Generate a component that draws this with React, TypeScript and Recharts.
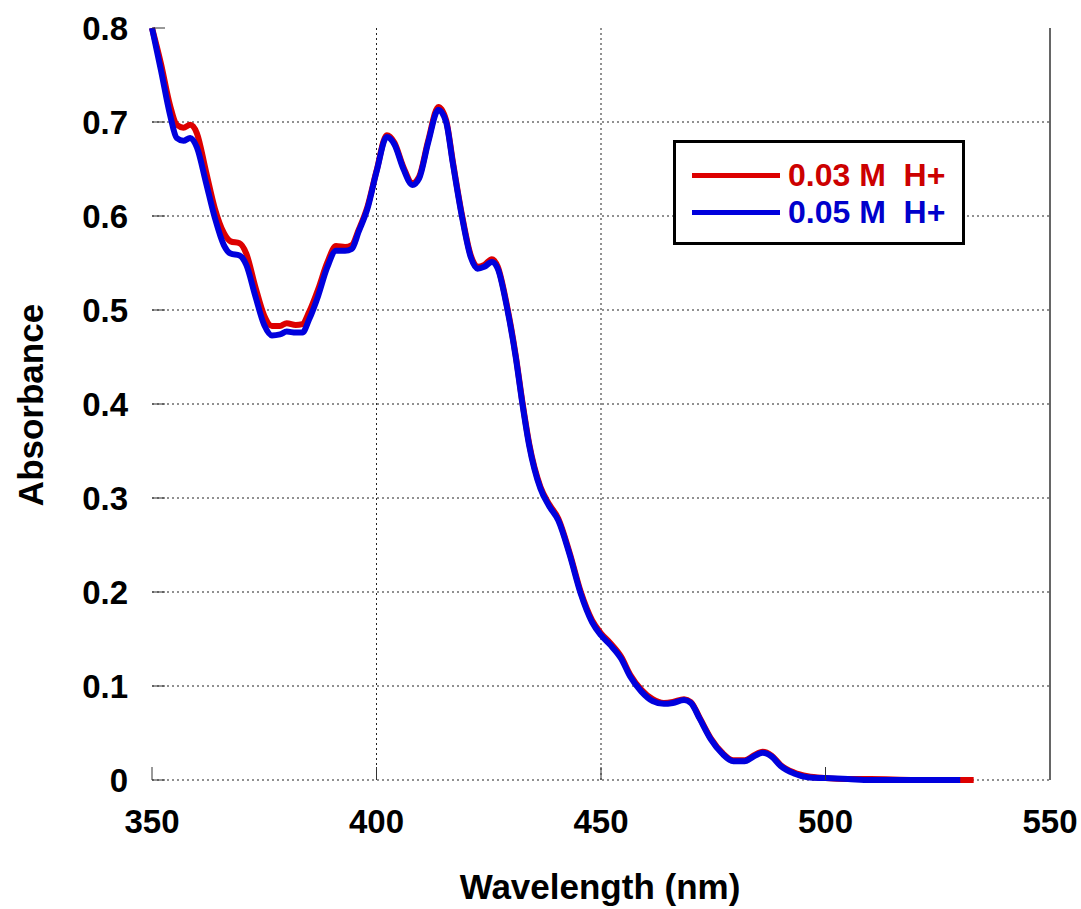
import { LineChart, Line, XAxis, YAxis, CartesianGrid } from "recharts";

// wavelength grid (nm)
const WAVELENGTH = [
  350, 352, 354, 355.5, 357, 358.5, 360, 362, 364, 366, 367.5, 369.5, 371, 373, 375, 376.7, 378.5, 380, 382, 383.5,
  385, 387, 389, 391, 393, 394.5, 396, 398, 400, 402.3, 404, 406, 408, 409.5, 411.5, 413.8, 415.5, 417, 419, 421,
  422.5, 424, 425.7, 427, 429, 431, 432.5, 434, 436.5, 438.5, 440.5, 443, 445.5, 448, 450, 452, 454.5, 456.5, 459, 461.5,
  464, 466, 468.5, 470, 472, 474.5, 477, 479.5, 482, 484, 486, 488, 490, 493, 496, 500, 505, 510, 520, 530,
];

// 0.03 M H+ (red)
const ABS_003 = [
  0.8, 0.762, 0.718, 0.697, 0.694, 0.697, 0.688, 0.648, 0.608, 0.582, 0.573, 0.571, 0.56, 0.525, 0.494, 0.483, 0.483, 0.486, 0.484, 0.485,
  0.498, 0.522, 0.55, 0.568, 0.567, 0.569, 0.585, 0.61, 0.648, 0.686, 0.678, 0.652, 0.635, 0.642, 0.68, 0.716, 0.702, 0.658, 0.602, 0.558,
  0.546, 0.548, 0.554, 0.546, 0.506, 0.452, 0.402, 0.358, 0.312, 0.293, 0.278, 0.242, 0.2, 0.17, 0.156, 0.146, 0.131, 0.112, 0.096, 0.086,
  0.082, 0.083, 0.086, 0.083, 0.066, 0.044, 0.029, 0.021, 0.021, 0.026, 0.03, 0.026, 0.016, 0.008, 0.004, 0.002, 0.001, 0.001, 0, 0,
];
// red trace runs a little further than the blue one
const TAIL_WL_003 = [533];
const TAIL_ABS_003 = [0];

// 0.05 M H+ (blue)
const ABS_005 = [
  0.8, 0.755, 0.708, 0.683, 0.68, 0.683, 0.673, 0.636, 0.598, 0.569, 0.56, 0.558, 0.548, 0.515, 0.484, 0.473, 0.474, 0.477, 0.476, 0.476,
  0.49, 0.515, 0.545, 0.563, 0.563, 0.565, 0.583, 0.608, 0.647, 0.684, 0.676, 0.65, 0.633, 0.64, 0.678, 0.713, 0.7, 0.656, 0.6, 0.556,
  0.544, 0.546, 0.551, 0.544, 0.504, 0.45, 0.4, 0.356, 0.31, 0.291, 0.276, 0.24, 0.198, 0.168, 0.154, 0.144, 0.129, 0.11, 0.094, 0.084,
  0.081, 0.082, 0.085, 0.082, 0.065, 0.043, 0.028, 0.02, 0.02, 0.025, 0.029, 0.025, 0.015, 0.007, 0.003, 0.002, 0.001, 0, 0, 0,
];

const X_TICKS = [350, 400, 450, 500, 550];
const Y_TICKS = [0, 0.1, 0.2, 0.3, 0.4, 0.5, 0.6, 0.7, 0.8];
const Y_LABELS = ["0", "0.1", "0.2", "0.3", "0.4", "0.5", "0.6", "0.7", "0.8"];
const GRID_X = [400, 450];
const GRID_Y = [0, 0.1, 0.2, 0.3, 0.4, 0.5, 0.6, 0.7];

const SERIES = [
  { name: "0.03 M  H+", color: "#dd0000", text: "#cc0000" },
  { name: "0.05 M  H+", color: "#0000dd", text: "#0000cc" },
];

const FONT = "'Liberation Sans', Arial, sans-serif";

const redData = [...WAVELENGTH, ...TAIL_WL_003].map((wl, i) => ({
  wl,
  abs: i < ABS_003.length ? ABS_003[i] : TAIL_ABS_003[i - ABS_003.length],
}));
const blueData = WAVELENGTH.map((wl, i) => ({ wl, abs: ABS_005[i] }));

// boxed legend, sits inside the plot on the upper right
function BoxLegend() {
  return (
    <div
      style={{
        position: "absolute",
        left: 673,
        top: 140,
        width: 286,
        height: 99,
        border: "3px solid #000",
        background: "#fff",
      }}
    >
      {SERIES.map((s, i) => (
        <div key={s.name} style={{ display: "flex", alignItems: "center", height: 37, marginTop: i === 0 ? 14 : 0 }}>
          <div style={{ width: 88, height: 5, background: s.color, marginLeft: 16, marginRight: 8 }} />
          <span
            style={{
              color: s.text,
              fontFamily: FONT,
              fontWeight: "bold",
              fontSize: 32,
              whiteSpace: "pre",
              lineHeight: "37px",
            }}
          >
            {s.name}
          </span>
        </div>
      ))}
    </div>
  );
}

export default function App() {
  return (
    <div style={{ position: "absolute", left: 0, top: 0, width: 1081, height: 909, background: "#fff" }}>
      <LineChart width={1081} height={909} margin={{ top: 28, right: 0, bottom: 0, left: 0 }}>
        <CartesianGrid
          stroke="#222"
          strokeDasharray="2 3"
          horizontalValues={GRID_Y}
          verticalValues={GRID_X}
        />
        <XAxis
          dataKey="wl"
          type="number"
          domain={[350, 550]}
          ticks={X_TICKS}
          allowDuplicatedCategory={false}
          height={129}
          axisLine={false}
          tickSize={-13}
          tickMargin={43}
          tickLine={{ stroke: "#333" }}
          tick={{ fill: "#000", fontFamily: FONT, fontWeight: "bold", fontSize: 33 }}
        />
        <YAxis
          domain={[0, 0.8]}
          ticks={Y_TICKS}
          width={152}
          axisLine={false}
          tickSize={-13}
          tickMargin={37}
          tickLine={{ stroke: "#333" }}
          tickFormatter={(v: number) => Y_LABELS[Y_TICKS.indexOf(v)] ?? String(v)}
          tick={{ fill: "#000", fontFamily: FONT, fontWeight: "bold", fontSize: 33 }}
        />
        <YAxis
          yAxisId="right"
          orientation="right"
          domain={[0, 0.8]}
          ticks={Y_TICKS}
          width={31}
          axisLine={{ stroke: "#666", strokeWidth: 2 }}
          tickSize={-13}
          tickLine={{ stroke: "#333" }}
          tickFormatter={() => ""}
        />
        <Line
          data={redData}
          dataKey="abs"
          name={SERIES[0].name}
          type="monotone"
          stroke={SERIES[0].color}
          strokeWidth={6}
          dot={false}
          activeDot={false}
          isAnimationActive={false}
        />
        <Line
          data={blueData}
          dataKey="abs"
          name={SERIES[1].name}
          type="monotone"
          stroke={SERIES[1].color}
          strokeWidth={6}
          dot={false}
          activeDot={false}
          isAnimationActive={false}
        />
      </LineChart>
      <BoxLegend />
      <div
        style={{
          position: "absolute",
          left: 31,
          top: 405,
          transform: "translate(-50%, -50%) rotate(-90deg)",
          fontFamily: FONT,
          fontWeight: "bold",
          fontSize: 35,
          whiteSpace: "nowrap",
          color: "#000",
        }}
      >
        Absorbance
      </div>
      <div
        style={{
          position: "absolute",
          left: 600,
          top: 887,
          transform: "translate(-50%, -50%)",
          fontFamily: FONT,
          fontWeight: "bold",
          fontSize: 35,
          whiteSpace: "nowrap",
          color: "#000",
        }}
      >
        Wavelength (nm)
      </div>
    </div>
  );
}
